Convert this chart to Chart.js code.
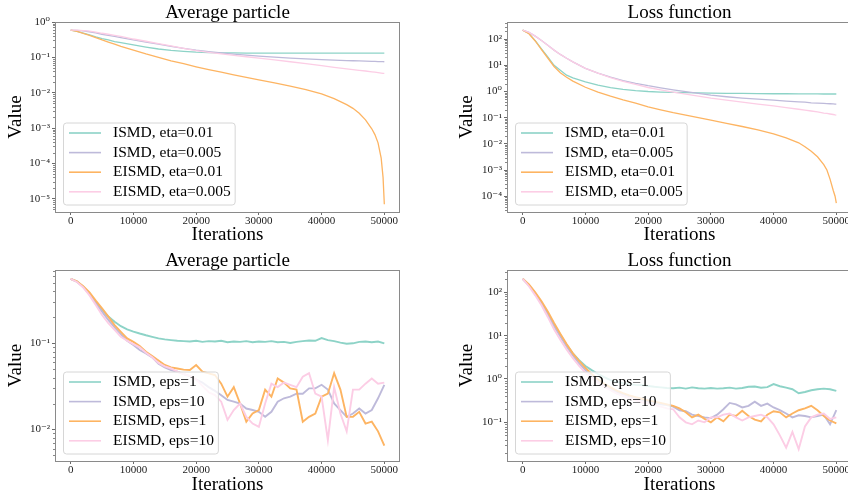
<!DOCTYPE html>
<html>
<head>
<meta charset="utf-8">
<script src="https://cdn.jsdelivr.net/npm/chart.js@4.4.1/dist/chart.umd.min.js"></script>
<style>
  html, body { margin: 0; padding: 0; background: #fff; }
  body { width: 848px; height: 491px; overflow: hidden; position: relative; }
  .panel { position: absolute; }
  canvas { display: block; }
</style>
</head>
<body>
<div class="panel" style="left:0;top:0"><canvas id="avgEta" width="424" height="245"></canvas></div>
<div class="panel" style="left:424px;top:0"><canvas id="lossEta" width="431" height="245"></canvas></div>
<div class="panel" style="left:0;top:248px"><canvas id="avgEps" width="424" height="250"></canvas></div>
<div class="panel" style="left:424px;top:248px"><canvas id="lossEps" width="431" height="250"></canvas></div>
<script>
// iterations for the smooth (eta) runs
var topIters = [0, 1000, 2000, 3000, 4000, 5000, 6000, 7000, 8000, 10000, 12000, 14000, 16000, 18000, 20000,
  22000, 24000, 26000, 28000, 30000, 32500, 35000, 37500, 40000, 42000, 44000, 45000, 46000, 47000, 48000,
  48500, 49000, 49500, 49800, 50000];

// Average particle, eta runs
var avgIsmdEta01 = [0.59, 0.545, 0.485, 0.43, 0.38, 0.34, 0.31, 0.28, 0.26, 0.224, 0.195, 0.172, 0.157, 0.147, 0.140,
  0.136, 0.134, 0.133, 0.132, 0.132, 0.131, 0.131, 0.131, 0.131, 0.131, 0.131, 0.131, 0.131, 0.131, 0.131,
  0.131, 0.131, 0.131, 0.131, 0.131];
var avgIsmdEta005 = [0.59, 0.58, 0.56, 0.53, 0.49, 0.45, 0.42, 0.39, 0.36, 0.31, 0.27, 0.235, 0.205, 0.18, 0.16,
  0.145, 0.133, 0.123, 0.115, 0.108, 0.101, 0.095, 0.09, 0.086, 0.083, 0.081, 0.08, 0.079, 0.078, 0.077,
  0.077, 0.076, 0.076, 0.076, 0.075];
var avgEismdEta01 = [0.59, 0.54, 0.48, 0.42, 0.36, 0.31, 0.27, 0.235, 0.205, 0.16, 0.125, 0.1, 0.08, 0.066, 0.054,
  0.045, 0.038, 0.032, 0.027, 0.023, 0.0188, 0.0153, 0.0122, 0.0092, 0.0068, 0.0046, 0.0036, 0.0026, 0.0017, 0.00095,
  0.00065, 0.00038, 0.00014, 0.00004, 0.000007];
var avgEismdEta005 = [0.59, 0.59, 0.57, 0.55, 0.52, 0.48, 0.45, 0.42, 0.39, 0.33, 0.285, 0.245, 0.21, 0.18, 0.155,
  0.138, 0.125, 0.114, 0.104, 0.095, 0.085, 0.075, 0.066, 0.058, 0.052, 0.047, 0.045, 0.043, 0.041, 0.039,
  0.038, 0.037, 0.036, 0.035, 0.035];

// Loss function, eta runs
var lossIsmdEta01 = [220, 165, 88, 42, 21, 10, 6.5, 4.2, 3.3, 2.35, 1.75, 1.4, 1.2, 1.08, 1.0,
  0.95, 0.92, 0.9, 0.88, 0.86, 0.85, 0.84, 0.83, 0.82, 0.82, 0.81, 0.81, 0.81, 0.81, 0.8,
  0.8, 0.8, 0.8, 0.8, 0.8];
var lossIsmdEta005 = [220, 180, 130, 88, 58, 38, 26, 18.5, 13.5, 7.6, 5.0, 3.5, 2.6, 2.05, 1.66,
  1.38, 1.16, 0.98, 0.84, 0.72, 0.63, 0.56, 0.51, 0.47, 0.43, 0.4, 0.39, 0.37, 0.36, 0.35,
  0.345, 0.34, 0.335, 0.33, 0.33];
var lossEismdEta01 = [220, 160, 85, 40, 19, 9, 5.2, 3.5, 2.5, 1.45, 0.95, 0.66, 0.48, 0.36, 0.26,
  0.2, 0.155, 0.125, 0.1, 0.08, 0.06, 0.046, 0.034, 0.024, 0.017, 0.011, 0.0078, 0.0052, 0.0032, 0.0016,
  0.001, 0.00045, 0.00017, 0.0001, 0.000055];
var lossEismdEta005 = [220, 180, 130, 88, 58, 38, 26, 18.5, 13.5, 7.6, 5.0, 3.4, 2.45, 1.85, 1.42,
  1.15, 0.95, 0.8, 0.67, 0.56, 0.47, 0.39, 0.33, 0.28, 0.24, 0.21, 0.195, 0.18, 0.165, 0.15,
  0.145, 0.138, 0.132, 0.128, 0.126];

// iterations for the noisy (eps) runs
var bottomIters = [0, 1000, 2000, 3000, 4000, 5000, 6000, 7000, 8000, 9000,
  10000, 11000, 12000, 13000, 14000, 15000, 16000, 17000, 18000, 19000,
  20000, 21000, 22000, 23000, 24000, 25000, 26000, 27000, 28000, 29000,
  30000, 31000, 32000, 33000, 34000, 35000, 36000, 37000, 38000, 39000,
  40000, 41000, 42000, 43000, 44000, 45000, 46000, 47000, 48000, 49000, 50000];

// Average particle, eps runs
var avgIsmdEps1 = [0.56, 0.52, 0.455, 0.38, 0.30, 0.245, 0.205, 0.178, 0.158, 0.145,
  0.137, 0.130, 0.124, 0.119, 0.114, 0.111, 0.109, 0.107, 0.106, 0.105,
  0.107, 0.104, 0.106, 0.105, 0.107, 0.103, 0.105, 0.104, 0.106, 0.103,
  0.105, 0.104, 0.106, 0.103, 0.104, 0.101, 0.104, 0.106, 0.108, 0.107,
  0.115, 0.109, 0.106, 0.102, 0.099, 0.100, 0.104, 0.105, 0.103, 0.105, 0.100];
var avgIsmdEps10 = [0.56, 0.52, 0.45, 0.37, 0.292, 0.233, 0.187, 0.153, 0.128, 0.107,
  0.0955, 0.0835, 0.0765, 0.0687, 0.058, 0.0526, 0.049, 0.0468, 0.044, 0.0417,
  0.038, 0.035, 0.031, 0.028, 0.025, 0.022, 0.021, 0.020, 0.0175, 0.0168,
  0.016, 0.014, 0.016, 0.021, 0.023, 0.024, 0.026, 0.026, 0.030, 0.030,
  0.033, 0.029, 0.020, 0.0168, 0.014, 0.0153, 0.0175, 0.0153, 0.0168, 0.023, 0.033];
var avgEismdEps1 = [0.56, 0.525, 0.46, 0.39, 0.313, 0.255, 0.204, 0.163, 0.136, 0.114,
  0.104, 0.093, 0.080, 0.071, 0.063, 0.056, 0.0526, 0.051, 0.0495, 0.049,
  0.056, 0.0468, 0.0448, 0.0428, 0.034, 0.024, 0.031, 0.020, 0.0123, 0.0153,
  0.0168, 0.029, 0.024, 0.039, 0.035, 0.030, 0.029, 0.0123, 0.014, 0.0153,
  0.024, 0.026, 0.045, 0.029, 0.014, 0.014, 0.016, 0.0117, 0.0123, 0.0095, 0.0065];
var avgEismdEps10 = [0.56, 0.515, 0.445, 0.36, 0.279, 0.213, 0.171, 0.143, 0.119, 0.107,
  0.098, 0.0898, 0.0778, 0.0687, 0.059, 0.054, 0.051, 0.0468, 0.044, 0.042,
  0.038, 0.032, 0.027, 0.025, 0.021, 0.0129, 0.0168, 0.020, 0.014, 0.0117,
  0.0107, 0.020, 0.034, 0.031, 0.035, 0.033, 0.031, 0.041, 0.045, 0.026,
  0.024, 0.0075, 0.031, 0.0153, 0.0095, 0.029, 0.029, 0.034, 0.039, 0.034, 0.035];

// Loss function, eps runs
var lossIsmdEps1 = [205, 147, 95, 58, 33, 17.6, 10.3, 6.1, 3.9, 2.73,
  2.0, 1.6, 1.3, 1.1, 0.94, 0.86, 0.8, 0.76, 0.73, 0.72,
  0.69, 0.66, 0.64, 0.62, 0.61, 0.63, 0.6, 0.64, 0.61, 0.6,
  0.62, 0.6, 0.61, 0.63, 0.6, 0.62, 0.66, 0.67, 0.63, 0.65,
  0.76, 0.68, 0.63, 0.58, 0.47, 0.5, 0.55, 0.58, 0.6, 0.58, 0.53];
var lossIsmdEps10 = [205, 145, 92, 55, 31, 16.5, 9.5, 5.6, 3.5, 2.3,
  1.6, 1.18, 0.9, 0.72, 0.6, 0.5, 0.44, 0.4, 0.36, 0.33,
  0.3, 0.28, 0.26, 0.25, 0.23, 0.19, 0.18, 0.15, 0.14, 0.13,
  0.125, 0.15, 0.2, 0.28, 0.26, 0.22, 0.24, 0.3, 0.24, 0.27,
  0.22, 0.19, 0.16, 0.13, 0.145, 0.14, 0.13, 0.14, 0.15, 0.09, 0.19];
var lossEismdEps1 = [205, 152, 100, 62, 36, 19.5, 11, 6.4, 3.9, 2.6,
  1.8, 1.3, 0.98, 0.78, 0.64, 0.54, 0.47, 0.42, 0.38, 0.35,
  0.32, 0.3, 0.28, 0.26, 0.24, 0.21, 0.17, 0.13, 0.15, 0.12,
  0.10, 0.13, 0.105, 0.15, 0.14, 0.185, 0.14, 0.115, 0.105, 0.15,
  0.18, 0.17, 0.13, 0.16, 0.19, 0.21, 0.24, 0.19, 0.14, 0.11, 0.095];
var lossEismdEps10 = [205, 138, 85, 50, 27, 14, 8, 4.8, 3.0, 2.0,
  1.4, 1.05, 0.82, 0.66, 0.55, 0.46, 0.4, 0.36, 0.32, 0.29,
  0.27, 0.25, 0.23, 0.21, 0.2, 0.13, 0.1, 0.09, 0.11, 0.1,
  0.13, 0.13, 0.15, 0.16, 0.13, 0.11, 0.13, 0.14, 0.15, 0.13,
  0.09, 0.05, 0.026, 0.06, 0.024, 0.08, 0.13, 0.15, 0.16, 0.12, 0.13];

// tick labels
var xTicks = [0, 10000, 20000, 30000, 40000, 50000];
var etaLabels = ['ISMD, eta=0.01', 'ISMD, eta=0.005', 'EISMD, eta=0.01', 'EISMD, eta=0.005'];
var epsLabels = ['ISMD, eps=1', 'ISMD, eps=10', 'EISMD, eps=1', 'EISMD, eps=10'];

var colors = ['#8dd3c7', '#bebada', '#fdb462', '#fccde5'];
var SERIF = '"Liberation Serif", "DejaVu Serif", serif';
Chart.defaults.font.family = SERIF;

var SUP = {'-': '\u207B', '0': '\u2070', '1': '\u00B9', '2': '\u00B2', '3': '\u00B3', '4': '\u2074', '5': '\u2075'};
function powLabel(v) {
  var e = Math.round(Math.log10(v));
  return '10' + String(e).split('').map(function (c) { return SUP[c]; }).join('');
}

// title, frame, minor log ticks and the in-axes legend box
var panelDecor = {
  id: 'panelDecor',
  afterDatasetsDraw: function (chart, args, opts) {
    var ctx = chart.ctx, a = chart.chartArea, ys = chart.scales.y;
    ctx.save();
    // frame
    ctx.strokeStyle = '#8a8a8a';
    ctx.lineWidth = 1;
    ctx.strokeRect(Math.round(a.left) + 0.5, Math.round(a.top) + 0.5,
      Math.round(a.right - a.left) - 1, Math.round(a.bottom - a.top));
    // minor ticks
    ctx.strokeStyle = '#555';
    ctx.lineWidth = 0.7;
    var lo = Math.floor(Math.log10(ys.min)), hi = Math.ceil(Math.log10(ys.max));
    for (var d = lo; d <= hi; d++) {
      for (var k = 2; k <= 9; k++) {
        var v = k * Math.pow(10, d);
        if (v < ys.min || v > ys.max) continue;
        var py = Math.round(ys.getPixelForValue(v)) + 0.5;
        ctx.beginPath();
        ctx.moveTo(a.left - 2, py);
        ctx.lineTo(a.left, py);
        ctx.stroke();
      }
    }
    // title
    ctx.fillStyle = '#000';
    ctx.font = '19px ' + SERIF;
    ctx.textAlign = 'center';
    ctx.textBaseline = 'alphabetic';
    ctx.fillText(opts.title, (a.left + a.right) / 2, a.top - 4.5);
    // legend
    ctx.font = '15.5px ' + SERIF;
    var sets = chart.data.datasets;
    var tw = 0;
    sets.forEach(function (s) { tw = Math.max(tw, ctx.measureText(s.label).width); });
    var w = 50 + tw + 4, h = 82;
    var bx = a.left + 8, by = a.bottom - 7.5 - h;
    ctx.beginPath();
    ctx.roundRect(bx + 0.5, by + 0.5, w, h, 3);
    ctx.fillStyle = 'rgba(255,255,255,0.8)';
    ctx.fill();
    ctx.strokeStyle = '#d6d6d6';
    ctx.lineWidth = 1;
    ctx.stroke();
    ctx.textAlign = 'left';
    ctx.textBaseline = 'middle';
    sets.forEach(function (s, i) {
      var ry = by + 10.5 + i * 19.6;
      ctx.strokeStyle = s.borderColor;
      ctx.lineWidth = 1.6;
      ctx.beginPath();
      ctx.moveTo(bx + 6, ry);
      ctx.lineTo(bx + 38, ry);
      ctx.stroke();
      ctx.fillStyle = '#000';
      ctx.fillText(s.label, bx + 50, ry);
    });
    ctx.restore();
  }
};

function makePanel(id, cfg) {
  var datasets = cfg.series.map(function (vals, i) {
    return {
      label: cfg.labels[i],
      data: vals.map(function (v, j) { return {x: cfg.iters[j], y: v}; }),
      borderColor: colors[i],
      backgroundColor: colors[i],
      borderWidth: cfg.lineWidth,
      pointRadius: 0,
      tension: 0,
      order: 4 - i
    };
  });
  return new Chart(document.getElementById(id).getContext('2d'), {
    type: 'line',
    data: {datasets: datasets},
    plugins: [panelDecor],
    options: {
      responsive: false,
      animation: false,
      layout: {padding: {left: cfg.padLeft, right: cfg.padRight, top: 22, bottom: 0}},
      plugins: {
        legend: {display: false},
        tooltip: {enabled: false},
        panelDecor: {title: cfg.title}
      },
      scales: {
        x: {
          type: 'linear',
          min: -2500,
          max: 52500,
          afterBuildTicks: function (s) { s.ticks = xTicks.map(function (v) { return {value: v}; }); },
          afterFit: function (s) { s.height = cfg.xHeight; },
          ticks: {color: '#222', font: {size: 11}, padding: 0, maxRotation: 0, autoSkip: false,
            callback: function (v) { return String(v); }},
          grid: {drawOnChartArea: false, drawTicks: true, tickLength: 3, tickColor: '#444', tickWidth: 0.8},
          border: {display: false},
          title: {display: true, text: 'Iterations', color: '#000',
            font: {size: 19, lineHeight: 1.2}, padding: {top: 0, bottom: cfg.xTitlePad}}
        },
        y: {
          type: 'logarithmic',
          min: cfg.yMin,
          max: cfg.yMax,
          afterBuildTicks: function (s) { s.ticks = cfg.yTicks.map(function (v) { return {value: v}; }); },
          afterFit: function (s) { s.width = cfg.yWidth; },
          ticks: {color: '#222', font: {size: 11}, padding: 2, autoSkip: false, callback: powLabel},
          grid: {drawOnChartArea: false, drawTicks: true, tickLength: 3, tickColor: '#444', tickWidth: 0.8},
          border: {display: false},
          title: {display: true, text: 'Value', color: '#000',
            font: {size: 19, lineHeight: 1.2}, padding: {top: 5, bottom: 0}}
        }
      }
    }
  });
}

makePanel('avgEta', {
  title: 'Average particle', labels: etaLabels, iters: topIters, lineWidth: 1.3,
  series: [avgIsmdEta01, avgIsmdEta005, avgEismdEta01, avgEismdEta005],
  yMin: 4.2e-6, yMax: 1.0, yTicks: [1e-5, 1e-4, 1e-3, 1e-2, 1e-1, 1],
  padLeft: 0, padRight: 24, yWidth: 55, xHeight: 33, xTitlePad: -1.5
});
makePanel('lossEta', {
  title: 'Loss function', labels: etaLabels, iters: topIters, lineWidth: 1.3,
  series: [lossIsmdEta01, lossIsmdEta005, lossEismdEta01, lossEismdEta005],
  yMin: 2.5e-5, yMax: 450, yTicks: [1e-4, 1e-3, 1e-2, 1e-1, 1, 10, 100],
  padLeft: 27, padRight: 3, yWidth: 56, xHeight: 33, xTitlePad: -1.5
});
makePanel('avgEps', {
  title: 'Average particle', labels: epsLabels, iters: bottomIters, lineWidth: 1.9,
  series: [avgIsmdEps1, avgIsmdEps10, avgEismdEps1, avgEismdEps10],
  yMin: 0.0043, yMax: 0.71, yTicks: [1e-2, 1e-1],
  padLeft: 0, padRight: 24, yWidth: 55, xHeight: 37, xTitlePad: 2
});
makePanel('lossEps', {
  title: 'Loss function', labels: epsLabels, iters: bottomIters, lineWidth: 1.9,
  series: [lossIsmdEps1, lossIsmdEps10, lossEismdEps1, lossEismdEps10],
  yMin: 0.0128, yMax: 327, yTicks: [1e-1, 1, 10, 100],
  padLeft: 27, padRight: 3, yWidth: 56, xHeight: 37, xTitlePad: 2
});
</script>
</body>
</html>
